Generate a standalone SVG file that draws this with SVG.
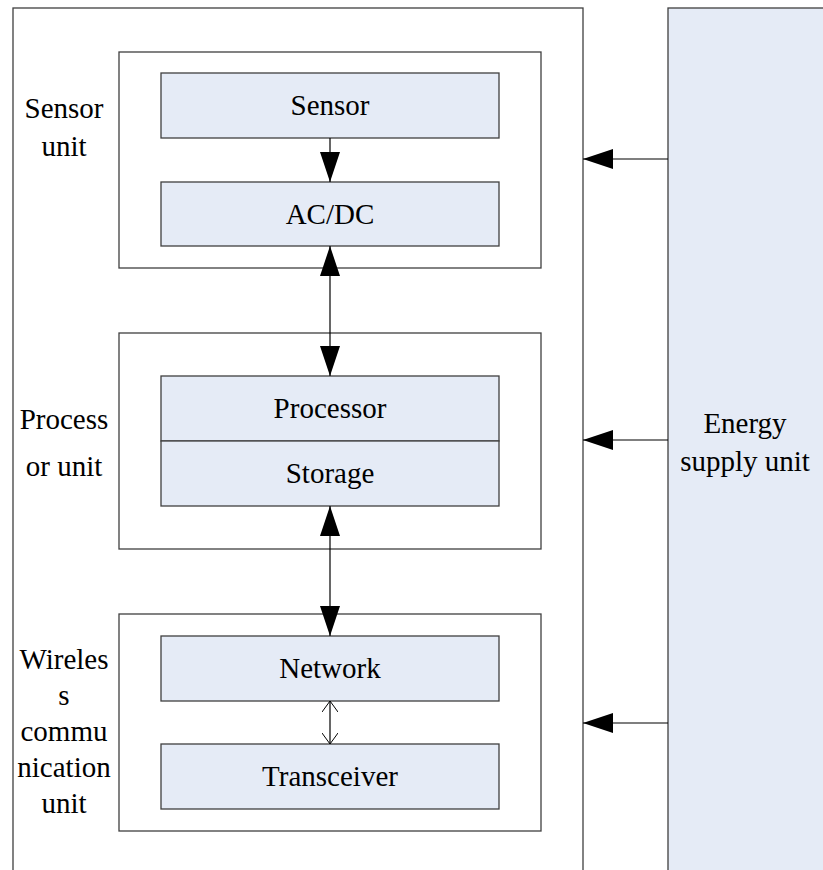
<svg xmlns="http://www.w3.org/2000/svg" width="823" height="870" viewBox="0 0 823 870">
<defs>
<style>
.frame{fill:#fff;stroke:#3f3f3f;stroke-width:1.3}
.box{fill:#e5ebf6;stroke:#3f3f3f;stroke-width:1.3}
text{font-family:'Liberation Serif','DejaVu Serif',serif;font-size:29px;fill:#000;text-anchor:middle}
.c{stroke:#000;stroke-width:1.2;fill:none}
</style>
<marker id="ah" viewBox="0 0 30 20" refX="30" refY="10" markerWidth="30" markerHeight="20" markerUnits="userSpaceOnUse" orient="auto-start-reverse">
<path d="M0,0 L30,10 L0,20 Z" fill="#000"/>
</marker>
<marker id="oh" viewBox="0 0 12 16" refX="11" refY="8" markerWidth="12" markerHeight="16" markerUnits="userSpaceOnUse" orient="auto-start-reverse">
<path d="M0,0 L11,8 L0,16" fill="none" stroke="#000" stroke-width="1"/>
</marker>
</defs>
<rect width="823" height="870" fill="#fff"/>
<g id="outer"><rect class="frame" x="13" y="8" width="570" height="880"/></g>
<g id="energy"><rect class="box" x="668" y="8" width="170" height="880"/>
<text x="745" y="433" font-family="Liberation Serif">Energy</text><text x="745" y="471" font-family="Liberation Serif">supply unit</text></g>
<g id="sensor-unit"><rect class="frame" x="119" y="52" width="422" height="216"/>
<text x="64" y="118">Sensor</text><text x="64" y="156">unit</text></g>
<g id="sensor"><rect class="box" x="161" y="73" width="338" height="65"/><text x="330" y="115">Sensor</text></g>
<g id="acdc"><rect class="box" x="161" y="182" width="338" height="64"/><text x="330" y="224">AC/DC</text></g>
<g id="processor-unit"><rect class="frame" x="119" y="333" width="422" height="216"/>
<text x="64" y="429">Process</text><text x="64" y="476">or unit</text></g>
<g id="processor"><rect class="box" x="161" y="376" width="338" height="65"/><text x="330" y="418">Processor</text></g>
<g id="storage"><rect class="box" x="161" y="441" width="338" height="65"/><text x="330" y="483">Storage</text></g>
<g id="wireless-unit"><rect class="frame" x="119" y="614" width="422" height="217"/>
<text x="64" y="669">Wireles</text><text x="64" y="705">s</text><text x="64" y="741">commu</text><text x="64" y="777">nication</text><text x="64" y="813">unit</text></g>
<g id="network"><rect class="box" x="161" y="636" width="338" height="65"/><text x="330" y="678">Network</text></g>
<g id="transceiver"><rect class="box" x="161" y="744" width="338" height="65"/><text x="330" y="786">Transceiver</text></g>
<g id="connectors">
<line class="c" x1="330" y1="138" x2="330" y2="182" marker-end="url(#ah)"/>
<line class="c" x1="330" y1="246" x2="330" y2="376" marker-start="url(#ah)" marker-end="url(#ah)"/>
<line class="c" x1="330" y1="506" x2="330" y2="636" marker-start="url(#ah)" marker-end="url(#ah)"/>
<line class="c" x1="330" y1="701" x2="330" y2="744" marker-start="url(#oh)" marker-end="url(#oh)"/>
<line class="c" x1="668" y1="159" x2="583" y2="159" marker-end="url(#ah)"/>
<line class="c" x1="668" y1="440" x2="583" y2="440" marker-end="url(#ah)"/>
<line class="c" x1="668" y1="723" x2="583" y2="723" marker-end="url(#ah)"/>
</g>
</svg>
